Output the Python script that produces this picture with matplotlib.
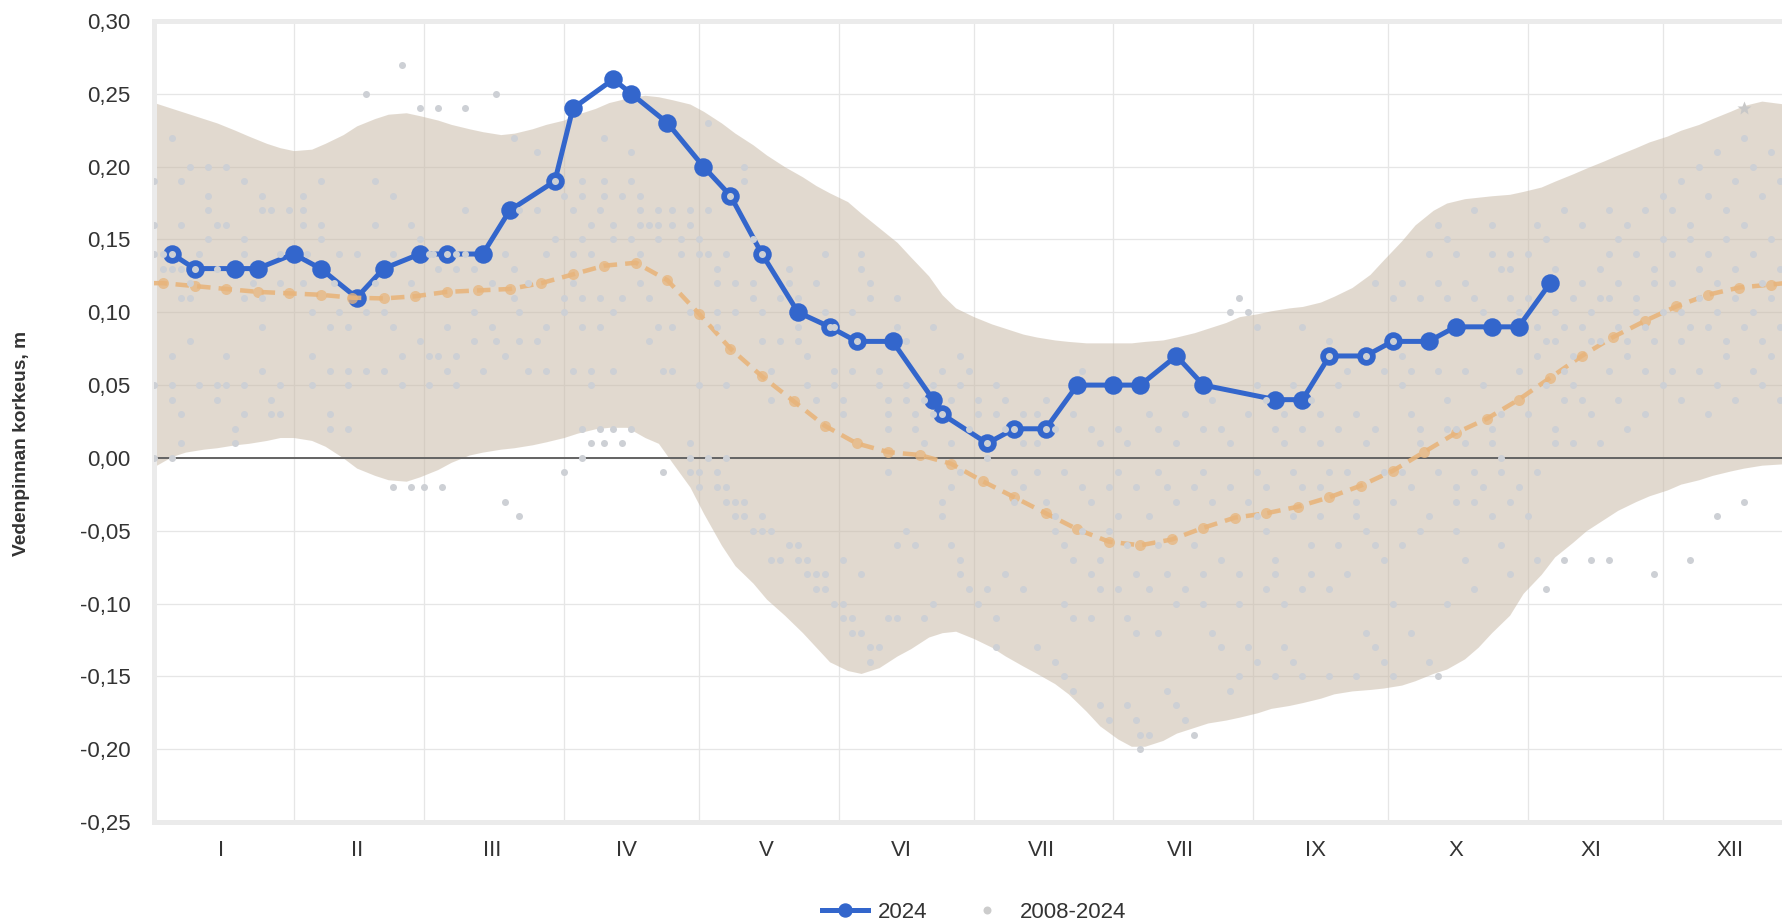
import numpy as np
import matplotlib
matplotlib.use("Agg")
import matplotlib.pyplot as plt
from matplotlib.lines import Line2D
from matplotlib.ticker import FuncFormatter

plt.rcParams["font.family"] = ["Liberation Sans", "DejaVu Sans"]

# x = day of year 2024 (0 = 1 Jan), y = water level in cm
obs_days = [4, 9, 18, 23, 31, 37, 45, 51, 59, 65, 73, 79, 89, 93, 102, 106,
            114, 122, 128, 135, 143, 150, 156, 164, 173, 175, 185, 191, 198,
            205, 213, 219, 227, 233, 249, 255, 261, 269, 275, 283, 289, 297,
            303, 310]
obs_cm = [14, 13, 13, 13, 14, 13, 11, 13, 14, 14, 14, 17, 19, 24, 26, 25,
          23, 20, 18, 14, 10, 9, 8, 8, 4, 3, 1, 2, 2,
          5, 5, 5, 7, 5, 4, 4, 7, 7, 8, 8, 9, 9,
          9, 12]

mean_days = [0, 2, 9, 16, 23, 30, 37, 44, 51, 58, 65, 72, 79, 86, 93, 100,
             107, 114, 121, 128, 135, 142, 149, 156, 163, 170, 177, 184, 191,
             198, 205, 212, 219, 226, 233, 240, 247, 254, 261, 268, 275, 282,
             289, 296, 303, 310, 317, 324, 331, 338, 345, 352, 359, 362]
mean_cm = [12.0, 12.0, 11.8, 11.6, 11.4, 11.3, 11.2, 11.0, 10.95, 11.1, 11.4,
           11.5, 11.6, 12.0, 12.6, 13.2, 13.4, 12.2, 9.9, 7.5, 5.6, 3.9, 2.2,
           1.0, 0.4, 0.2, -0.4, -1.6, -2.7, -3.8, -4.9, -5.75, -6.0, -5.6,
           -4.8, -4.1, -3.8, -3.35, -2.7, -1.9, -0.9, 0.4, 1.7, 2.7, 4.0, 5.5,
           7.0, 8.3, 9.4, 10.4, 11.2, 11.7, 11.9, 12.0]
mean_marker_days = mean_days[1:-1]

band_days = [0, 4, 7, 11, 14, 18, 21, 25, 28, 31, 35, 38, 42, 45, 49, 52, 56,
             59, 63, 66, 70, 73, 77, 80, 84, 87, 91, 94, 98, 101, 105, 109,
             112, 115, 119, 122, 126, 129, 133, 136, 140, 144, 147, 150, 154,
             157, 161, 165, 168, 172, 175, 178, 182, 186, 189, 193, 196, 200,
             203, 207, 210, 214, 217, 220, 224, 227, 231, 234, 238, 241, 245,
             248, 252, 255, 259, 262, 266, 270, 273, 277, 280, 284, 287, 291,
             294, 297, 301, 304, 308, 311, 315, 318, 322, 325, 329, 332, 336,
             339, 343, 346, 350, 353, 357, 362]
band_hi_cm = [24.4, 24.0, 23.7, 23.3, 23.0, 22.5, 22.1, 21.6, 21.3, 21.1, 21.2,
              21.6, 22.2, 22.8, 23.3, 23.6, 23.7, 23.5, 23.2, 22.9, 22.6, 22.4,
              22.2, 22.3, 22.6, 22.9, 23.2, 23.6, 24.0, 24.4, 24.7, 24.9, 24.8,
              24.6, 24.3, 23.8, 23.0, 22.3, 21.5, 20.8, 20.0, 19.3, 18.7, 18.2,
              17.6, 16.8, 15.8, 14.8, 13.8, 12.5, 11.2, 10.3, 9.7, 9.2, 8.9,
              8.5, 8.3, 8.1, 8.0, 7.9, 7.9, 7.9, 7.9, 8.0, 8.1, 8.3, 8.6, 8.9,
              9.3, 9.7, 9.9, 10.1, 10.3, 10.4, 10.7, 11.1, 11.7, 12.6, 13.6,
              14.9, 16.0, 17.0, 17.5, 17.8, 17.9, 18.0, 18.1, 18.3, 18.6, 19.0,
              19.5, 19.9, 20.4, 20.8, 21.3, 21.7, 22.1, 22.5, 22.9, 23.3, 23.8,
              24.2, 24.5, 24.3]
band_lo_cm = [-0.6, 0.1, 0.4, 0.6, 0.7, 0.9, 1.0, 1.2, 1.4, 1.4, 1.2, 0.8, 0.0,
              -0.7, -1.2, -1.5, -1.6, -1.3, -0.8, -0.3, 0.2, 0.4, 0.6, 0.7, 0.9,
              1.1, 1.4, 1.7, 2.0, 2.1, 2.1, 1.4, 1.0, -0.3, -2.0, -3.8, -6.0,
              -7.4, -8.6, -9.7, -10.8, -12.0, -13.0, -14.0, -14.6, -14.8, -14.4,
              -13.6, -13.1, -12.3, -12.0, -11.9, -12.4, -13.0, -13.6, -14.3,
              -14.8, -15.5, -16.2, -17.4, -18.4, -19.3, -19.8, -19.8, -19.4,
              -18.9, -18.5, -18.2, -18.0, -17.8, -17.5, -17.2, -17.0, -16.8,
              -16.5, -16.2, -16.0, -15.9, -15.8, -15.6, -15.3, -14.8, -14.5,
              -13.8, -13.0, -12.0, -10.8, -9.3, -8.0, -6.8, -5.8, -5.0, -4.2,
              -3.6, -3.0, -2.6, -2.2, -1.8, -1.5, -1.2, -0.9, -0.7, -0.5, -0.4]

# 2008-2024 observations (day, levels in cm)
hist_obs = [
    (0, [19, 16, 14, 5, 0]), (2, [14, 13]), (4, [22, 14, 13, 7, 5, 4, 0]),
    (6, [19, 16, 11, 3, 1, 13]), (8, [20, 12, 11, 8]), (9, [13]),
    (10, [14, 5]), (12, [20, 18, 17, 15]), (14, [16, 13, 5, 4]),
    (16, [20, 16, 7, 5]), (18, [2, 1]), (20, [19, 15, 14, 11, 5, 3]),
    (22, [12]), (24, [18, 17, 11, 9, 6]), (26, [4, 3, 17]),
    (28, [14, 12, 5, 3]), (30, [17]), (33, [18, 17, 16, 12]),
    (34, [14]), (35, [10, 7, 5]), (37, [19, 16, 15]), (39, [9, 6, 3, 2]),
    (40, [12]), (41, [14, 10]), (43, [9, 6, 5, 2]), (45, [14]),
    (47, [25, 10, 6]), (49, [19, 16, 12]), (51, [10, 6]),
    (53, [18, 14, 9, -2]), (55, [27, 7, 5]), (57, [16, 12, -2]),
    (59, [24, 15, 8]), (60, [-2]), (61, [7, 5, 14]), (62, [14]),
    (63, [24, 13, 7]), (64, [-2]), (65, [14, 9, 6]), (67, [13, 7, 5, 14]),
    (69, [24, 17, 14]), (71, [13, 10, 8]), (73, [6]), (75, [12, 9]),
    (76, [25, 8]), (78, [14, 7, -3]), (80, [22, 13, 11]),
    (81, [17, 10, 8, -4]), (83, [6, 12]), (85, [21, 17, 8]),
    (87, [14, 9, 6]), (89, [19, 15]), (91, [18, 11, 10, -1]),
    (93, [17, 14, 12, 6]), (95, [19, 18, 15, 11, 9, 0, 2]),
    (97, [16, 14, 6, 5, 1]), (99, [17, 11, 9, 2]), (100, [22, 19, 18, 1]),
    (102, [16, 15, 10, 6, 2]), (104, [11, 18, 1]), (106, [21, 19, 15, 2]),
    (108, [18, 17, 16, 14, 12]), (110, [11, 8, 16]), (112, [17, 16, 15, 9]),
    (113, [6, -1]), (115, [17, 16, 9, 6]), (117, [15, 14]),
    (119, [17, 16, 10, 1, 0, -1]), (121, [15, 14, 5, -1, -2]),
    (123, [23, 17, 14, 0]), (125, [13, 12, 10, 9, -2, -1]),
    (127, [14, 5, 0, -2, -3]), (128, [18]), (129, [12, 10, -3, -4]),
    (131, [20, 19, -3, -4]), (133, [15, 12, 11, -5]),
    (135, [14, 10, 8, -4, -5]), (137, [6, 4, -5, -7]), (139, [11, 8, -7]),
    (141, [13, 12, -6]), (143, [11, 9, 8, -6, -7]), (145, [7, 5, -7, -8]),
    (147, [12, 4, -8, -9]), (149, [14, 10, -8, -9]), (150, [9]),
    (151, [9, 6, 5, -10]), (153, [4, 3, -7, -10, -11]), (155, [10, 6, -12, -11]),
    (156, [8]), (157, [14, 13, -8, -12]), (159, [12, 11, -13, -14]),
    (161, [6, 5, -13]), (163, [4, 3, 2, -11, -1]), (165, [11, 9, -11, -6]),
    (167, [8, 5, 4, -5]), (169, [3, 2, -6]), (171, [1, 4, -11]),
    (173, [9, 5, 3, -10]), (175, [6, 3, -4, -3]), (177, [4, 1, -2, -6]),
    (179, [7, 5, -1, -7, -8]), (181, [6, 2, -9]), (183, [4, 3, -10]),
    (185, [1, 0, -9]), (187, [5, 3, -11, -13]), (189, [4, 2, -8]),
    (191, [2, -1, -3]), (193, [3, 1, -2, -9]), (196, [3, 1, -1, -13]),
    (198, [4, 2, -3]), (200, [2, -4, -5, -14]), (202, [-1, -6, -10, -15]),
    (204, [3, -7, -11, -16]), (206, [6, -2, -5]), (208, [2, -3, -8, -11]),
    (210, [1, -7, -9, -17]), (212, [-2, -5, -18]), (214, [2, -1, -4, -9]),
    (216, [1, -6, -11, -17]), (218, [-2, -8, -12, -18]), (219, [-19, -20]),
    (221, [3, -4, -9, -19]), (223, [2, -1, -6, -12]), (225, [-2, -8, -16]),
    (227, [1, -3, -10, -17]), (229, [3, -9, -18]), (231, [-2, -6, -19]),
    (233, [2, -1, -8, -10]), (235, [4, -3, -12]), (237, [2, -7, -13]),
    (239, [10, 1, -2, -16]), (241, [11, -8, -10, -15]), (243, [10, 3, -3, -13]),
    (245, [9, 5, -1, -4, -14]), (247, [4, -2, -5, -9]), (249, [2, -7, -8, -15]),
    (251, [3, 1, -10, -13]), (253, [5, -1, -4, -14]), (255, [9, 2, -2, -9, -15]),
    (257, [4, -6, -8]), (259, [3, 1, -2, -4]), (261, [8, 7, -1, -9, -15]),
    (263, [5, 2, -6]), (265, [6, -1, -8]), (267, [3, -3, -4, -15]),
    (269, [7, 1, -5, -12]), (271, [12, 2, -6, -13]), (273, [6, -1, -7, -14]),
    (275, [8, 11, -3, -10, -15]), (277, [12, 7, 5, -1, -6]),
    (279, [6, 3, -2, -12]), (281, [11, 2, 1, -5]), (283, [14, -4, -14]),
    (285, [16, 12, 6, -1, -15]), (287, [15, 11, 4, 2, -10]),
    (289, [14, 2, -2, -3, -5]), (291, [12, 6, 1, -7]), (293, [17, 11, -1, -3, -9]),
    (295, [10, 5, -2]), (297, [16, 14, 2, 1, -4]), (299, [13, 3, 0, -1, -6]),
    (301, [14, 13, 11, -3, -8]), (303, [10, 6, -2]), (305, [14, 11, 3, -4]),
    (307, [16, 9, 7, -1, -7]), (309, [15, 8, 5, -9]), (311, [13, 10, 8, 2, 1]),
    (313, [17, 9, 6, 4, -7]), (315, [11, 7, 5, 1]), (317, [16, 12, 9, 4]),
    (319, [10, 8, 3, -7]), (321, [13, 11, 8, 1]), (323, [17, 14, 11, 6, -7]),
    (325, [15, 12, 9, 4]), (327, [16, 8, 7, 2]), (329, [14, 11, 10]),
    (331, [17, 9, 6, 3]), (333, [13, 12, 8, -8]), (335, [18, 15, 10, 5]),
    (337, [17, 14, 12, 6]), (339, [19, 10, 8, 4]), (341, [16, 15, 9, -7]),
    (343, [20, 13, 11, 6]), (345, [18, 14, 9, 3]), (347, [21, 12, 10, 5, -4]),
    (349, [17, 15, 8, 7]), (351, [19, 13, 11, 4]), (353, [22, 16, 9, -3]),
    (355, [20, 14, 10, 6]), (357, [18, 12, 8, 5]), (359, [21, 15, 11, 7]),
    (361, [19, 13, 9, 4]),
]
hist_max_day, hist_max_cm = 353, 24

month_starts = [31, 60, 91, 121, 152, 182, 213, 244, 274, 305, 335]
month_mids = [15, 45, 75, 105, 136, 166, 197, 228, 258, 289, 319, 350]
month_labels = ["I", "II", "III", "IV", "V", "VI", "VII", "VII", "IX", "X",
                "XI", "XII"]

blue = "#3366cc"
orange = "#e8b57c"
dot_gray = "#cdd0d5"
px = 72 / 100  # one pixel in points at dpi 100

fig = plt.figure(figsize=(17.83, 9.22), dpi=100)
ax = fig.add_axes([154 / 1783, 100 / 922, 1629 / 1783, 801 / 922])

ax.fill_between(band_days, np.array(band_lo_cm) / 100,
                np.array(band_hi_cm) / 100, color="#c5b5a1", alpha=0.5,
                lw=0, zorder=1)
ax.axhline(0, color="#666666", lw=2 * px, zorder=2)

ax.plot(obs_days, np.array(obs_cm) / 100, color=blue, lw=5 * px,
        marker="o", ms=17 * px, mew=1.5 * px, zorder=3)

ax.plot(mean_days, np.array(mean_cm) / 100, color=orange, lw=4.5 * px,
        dashes=(3.0, 1.8), alpha=0.9, zorder=4)
mean_marker_cm = [mean_cm[mean_days.index(d)] for d in mean_marker_days]
ax.plot(mean_marker_days, np.array(mean_marker_cm) / 100, ls="none",
        marker="o", ms=11 * px, color=orange, alpha=0.75, mec="none",
        zorder=4)

hx = [d for d, vals in hist_obs for _ in vals]
hy = [v / 100 for _, vals in hist_obs for v in vals]
ax.scatter(hx, hy, s=(7 * px) ** 2, color=dot_gray, lw=0, zorder=5)
ax.plot([hist_max_day], [hist_max_cm / 100], ls="none", marker="*",
        ms=14 * px, color="#c8c8c8", mec="none", zorder=5)

ax.set_xlim(0, 361.7)
ax.set_ylim(-0.25, 0.30)
ax.set_yticks(np.arange(-0.25, 0.301, 0.05))
ax.yaxis.set_major_formatter(
    FuncFormatter(lambda v, _: f"{v:.2f}".replace(".", ",").replace("-0,00", "0,00")))
ax.set_xticks(month_starts)
ax.set_xticklabels([])
ax.set_xticks(month_mids, minor=True)
ax.set_xticklabels(month_labels, minor=True)
ax.tick_params(axis="both", which="both", length=0, labelsize=16,
               labelcolor="#333333")
ax.tick_params(axis="y", pad=17)
ax.tick_params(axis="x", which="minor", pad=13)

ax.grid(True, which="major", color="#e6e6e6", lw=1.3 * px)
ax.set_axisbelow(True)
for side in ["left", "top", "bottom"]:
    ax.spines[side].set_color("#ebebeb")
    ax.spines[side].set_linewidth(5 * px)
ax.spines["right"].set_visible(False)

fig.text(22 / 1783, 1 - 443 / 922, "Vedenpinnan korkeus, m", rotation=90,
         ha="center", va="center", fontsize=13.8, fontweight="bold",
         color="#333333")

handles = [
    Line2D([], [], color=blue, lw=5 * px, marker="o", ms=13 * px),
    Line2D([], [], ls="none", marker="o", ms=8 * px, color="#cccccc",
           mec="none"),
]
fig.legend(handles, ["2024", "2008-2024"], loc="center",
           bbox_to_anchor=(974 / 1783, 1 - 912 / 922), ncol=2, frameon=False,
           fontsize=16, handlelength=2.1, handletextpad=0.45,
           columnspacing=1.6, labelcolor="#333333")

fig.savefig("out.png", dpi=100)
